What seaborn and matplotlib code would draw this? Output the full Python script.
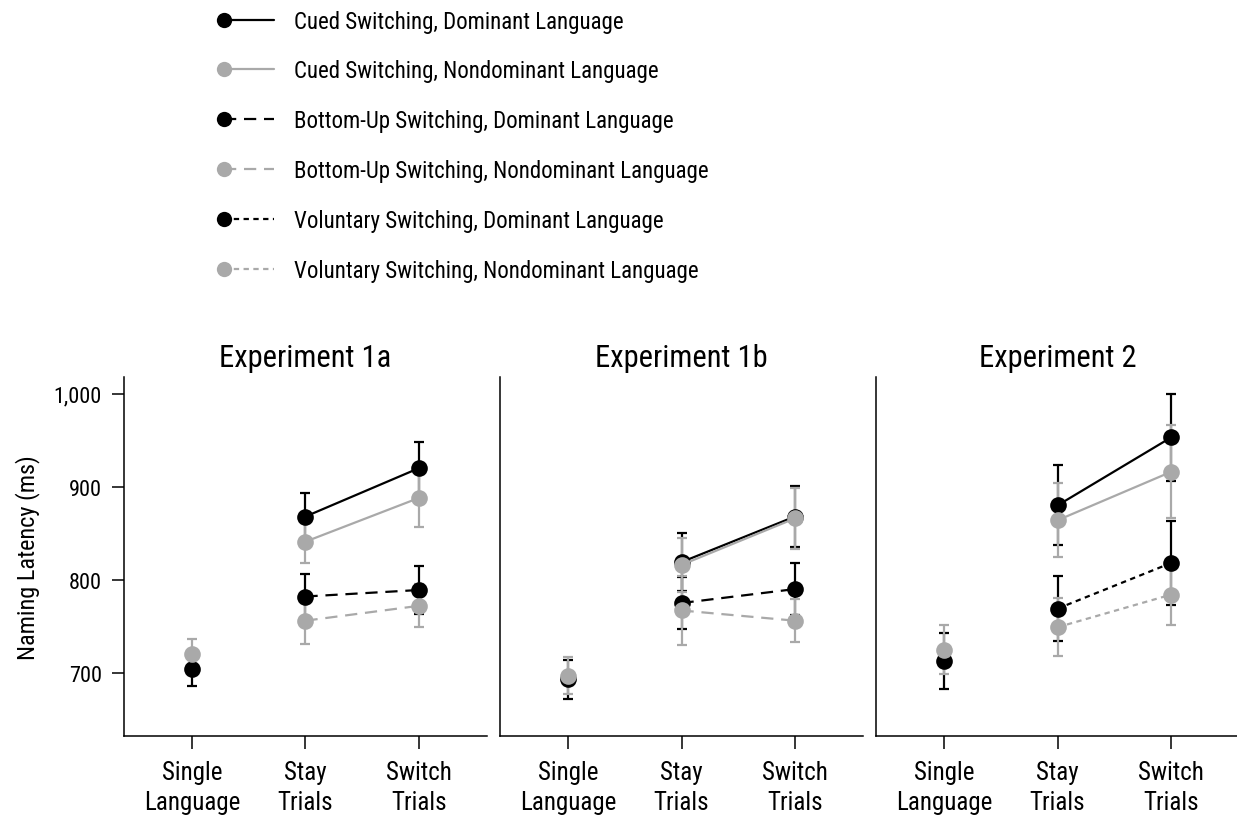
import matplotlib
matplotlib.use("Agg")
import matplotlib.pyplot as plt
import seaborn as sns
import numpy as np
import pandas as pd
from matplotlib.lines import Line2D
from matplotlib.legend_handler import HandlerLine2D
from matplotlib.ticker import FuncFormatter

# panel titles and x categories
experiments = ["Experiment 1a", "Experiment 1b", "Experiment 2"]
conditions = ["Single\nLanguage", "Stay\nTrials", "Switch\nTrials"]

# single-language blocks, one value per experiment
single_dom = [704, 693, 713]
single_dom_err = [18, 21, 30]
single_nondom = [720, 697, 725]
single_nondom_err = [16, 20, 26]

# mixed blocks: [stay, switch] per experiment
cued_dom = [[868, 920], [819, 868], [880, 953]]
cued_dom_err = [[25, 28], [31, 33], [43, 47]]
cued_nondom = [[841, 888], [816, 866], [864, 916]]
cued_nondom_err = [[23, 31], [29, 33], [40, 50]]
# bottom-up switching (Exp 1a, 1b) / voluntary switching (Exp 2)
other_dom = [[782, 789], [775, 790], [769, 818]]
other_dom_err = [[24, 26], [28, 28], [35, 45]]
other_nondom = [[756, 772], [767, 756], [749, 784]]
other_nondom_err = [[25, 23], [37, 23], [31, 33]]
other_type = ["Bottom-Up", "Bottom-Up", "Voluntary"]

BLACK = "#000000"
GRAY = "#a9a9a9"
DASHED = (0, (5.5, 3.5))
DOTTED = (0, (2.4, 2.0))
styles = {"Cued": "-", "Bottom-Up": DASHED, "Voluntary": DOTTED}

sns.set_theme(style="ticks")
plt.rcParams["font.family"] = ["Roboto Condensed", "DejaVu Sans"]
plt.rcParams["text.color"] = "black"
plt.rcParams["axes.labelcolor"] = "black"
plt.rcParams["xtick.color"] = "black"
plt.rcParams["ytick.color"] = "black"

fig = plt.figure(figsize=(12.37, 8.2), dpi=100)
lefts = [0.1002, 0.4042, 0.7082]
axes = [fig.add_axes([l, 0.1012, 0.2935, 0.4378]) for l in lefts]

MS = 12
LW = 1.6


def draw_series(ax, xs, ys, errs, color, ls):
    ax.errorbar(xs, ys, yerr=errs, fmt="none", ecolor=color, elinewidth=LW,
                capsize=3.5, capthick=LW, zorder=2)
    df = pd.DataFrame({"x": xs, "y": ys})
    sns.lineplot(data=df, x="x", y="y", ax=ax, color=color, linestyle=ls,
                 linewidth=LW, marker="o", markersize=MS, markeredgewidth=0,
                 errorbar=None, zorder=3)


for i, ax in enumerate(axes):
    mixed_x = [1, 2]
    # single language
    draw_series(ax, [0], [single_dom[i]], [single_dom_err[i]], BLACK, "-")
    draw_series(ax, [0], [single_nondom[i]], [single_nondom_err[i]], GRAY, "-")
    # mixed blocks
    ot = styles[other_type[i]]
    draw_series(ax, mixed_x, other_dom[i], other_dom_err[i], BLACK, ot)
    draw_series(ax, mixed_x, other_nondom[i], other_nondom_err[i], GRAY, ot)
    draw_series(ax, mixed_x, cued_dom[i], cued_dom_err[i], BLACK, "-")
    draw_series(ax, mixed_x, cued_nondom[i], cued_nondom_err[i], GRAY, "-")

    ax.set_xlim(-0.6, 2.6)
    ax.set_ylim(632, 1018)
    ax.set_xticks(range(len(conditions)))
    ax.set_xticklabels(conditions, fontsize=18, linespacing=1.35)
    ax.set_xlabel("")
    ax.set_ylabel("")
    ax.set_title(experiments[i], fontsize=22, pad=8)
    sns.despine(ax=ax)
    for side in ["left", "bottom"]:
        ax.spines[side].set_linewidth(1.1)
        ax.spines[side].set_color("black")
    ax.tick_params(axis="x", length=9, width=1.1, pad=8)
    if i == 0:
        ax.set_yticks([700, 800, 900, 1000])
        ax.yaxis.set_major_formatter(FuncFormatter(lambda v, p: f"{v:,.0f}"))
        ax.tick_params(axis="y", length=9, width=1.1, pad=7, labelsize=16)
        ax.set_ylabel("Naming Latency (ms)", fontsize=17.5, labelpad=10)
    else:
        ax.tick_params(axis="y", left=False, labelleft=False)


class MarkerLeftHandler(HandlerLine2D):
    # marker sits at the left end of the legend line
    def create_artists(self, legend, orig_handle, xdescent, ydescent,
                       width, height, fontsize, trans):
        y = (height - ydescent) / 2
        line = Line2D([-xdescent, -xdescent + width], [y, y])
        self.update_prop(line, orig_handle, legend)
        line.set_marker("")
        dot = Line2D([-xdescent], [y])
        self.update_prop(dot, orig_handle, legend)
        dot.set_linestyle("None")
        line.set_transform(trans)
        dot.set_transform(trans)
        return [line, dot]


legend_items = [
    ("Cued Switching, Dominant Language", BLACK, "-"),
    ("Cued Switching, Nondominant Language", GRAY, "-"),
    ("Bottom-Up Switching, Dominant Language", BLACK, DASHED),
    ("Bottom-Up Switching, Nondominant Language", GRAY, DASHED),
    ("Voluntary Switching, Dominant Language", BLACK, DOTTED),
    ("Voluntary Switching, Nondominant Language", GRAY, DOTTED),
]
handles = [Line2D([], [], color=c, linestyle=ls, linewidth=LW, marker="o",
                  markersize=MS - 1, markeredgewidth=0, label=lab)
           for lab, c, ls in legend_items]
fig.legend(handles=handles, loc="upper left", bbox_to_anchor=(0.181, 0.987),
           frameon=False, fontsize=16.5, handlelength=2.2, handletextpad=0.85,
           labelspacing=1.17, borderpad=0, borderaxespad=0,
           handler_map={Line2D: MarkerLeftHandler()})

fig.savefig("out.png", dpi=100)
